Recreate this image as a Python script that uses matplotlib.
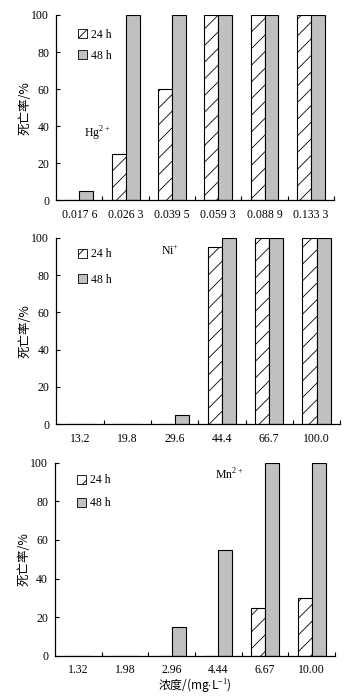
import matplotlib
matplotlib.use("Agg")
import matplotlib.pyplot as plt
import numpy as np
from matplotlib.patches import Patch

plt.rcParams['font.family'] = ['Liberation Serif', 'Noto Sans CJK SC', 'DejaVu Sans']
plt.rcParams['hatch.linewidth'] = 0.6
plt.rcParams['mathtext.fontset'] = 'custom'
plt.rcParams['mathtext.rm'] = 'Liberation Serif'

# ---- data ----
hg_labels = ["0.017 6", "0.026 3", "0.039 5", "0.059 3", "0.088 9", "0.133 3"]
hg_24h = [0, 25, 60, 100, 100, 100]
hg_48h = [5, 100, 100, 100, 100, 100]

ni_labels = ["13.2", "19.8", "29.6", "44.4", "66.7", "100.0"]
ni_24h = [0, 0, 0, 95, 100, 100]
ni_48h = [0, 0, 5, 100, 100, 100]

mn_labels = ["1.32", "1.98", "2.96", "4.44", "6.67", "10.00"]
mn_24h = [0, 0, 0, 0, 25, 30]
mn_48h = [0, 0, 15, 55, 100, 100]

series_names = ["24 h", "48 h"]
ion_names = ["Hg$^{2+}$", "Ni$^{+}$", "Mn$^{2+}$"]
ylabel = "死亡率/%"
xlabel = "浓度/(mg$\\cdot$L$^{-1}$)"

GRAY = "#c0c0c0"
FS = 8.5

fig = plt.figure(figsize=(3.6, 7.0), dpi=100)

panels = [
    (hg_labels, hg_24h, hg_48h, ion_names[0], [0.156, 0.714, 0.772, 0.2646], (0.10, 0.34), (0.06, 0.95), 0.75),
    (ni_labels, ni_24h, ni_48h, ion_names[1], [0.156, 0.394, 0.789, 0.266], (0.37, 0.91), (0.06, 0.97), 1.15),
    (mn_labels, mn_24h, mn_48h, ion_names[2], [0.153, 0.063, 0.778, 0.276], (0.57, 0.915), (0.06, 0.965), 0.95),
]

for i, (labels, s24, s48, ion, rect, ionpos, legpos, lsp) in enumerate(panels):
    ax = fig.add_axes(rect)
    x = np.arange(len(labels))
    w = 0.30
    ax.bar(x - w / 2, s24, w, facecolor="white", edgecolor="black", linewidth=0.8, hatch="//")
    ax.bar(x + w / 2, s48, w, facecolor=GRAY, edgecolor="black", linewidth=0.8)
    ax.set_xlim(-0.5, len(labels) - 0.5)
    ax.set_ylim(0, 100)
    ax.set_yticks([0, 20, 40, 60, 80, 100])
    ax.set_xticks(x)
    ax.set_xticklabels(labels, fontsize=FS)
    ax.set_xticks(np.arange(0.5, len(labels)), minor=True)
    ax.tick_params(axis='x', which='major', length=0, pad=6)
    ax.tick_params(axis='x', which='minor', direction='in', length=3, width=0.8)
    ax.tick_params(axis='y', direction='in', length=3, width=0.8, labelsize=FS, pad=5)
    for s in ['top', 'right']:
        ax.spines[s].set_visible(False)
    for s in ['left', 'bottom']:
        ax.spines[s].set_linewidth(0.9)
    ax.set_ylabel(ylabel, fontsize=9, family=['Noto Sans CJK SC', 'DejaVu Sans'], labelpad=0)
    ax.text(ionpos[0], ionpos[1], ion, transform=ax.transAxes, fontsize=FS)
    handles = [Patch(facecolor="white", edgecolor="black", hatch="//", linewidth=0.6),
               Patch(facecolor=GRAY, edgecolor="black", linewidth=0.6)]
    ax.legend(handles, series_names, loc="upper left", bbox_to_anchor=legpos,
              frameon=False, fontsize=FS, handlelength=0.8, handleheight=0.8,
              handletextpad=0.3, labelspacing=lsp, borderaxespad=0)
    if i == 2:
        ax.set_xlabel(xlabel, fontsize=8.5, family=['Noto Sans CJK SC', 'DejaVu Sans'], labelpad=0)

fig.savefig("out.png", dpi=100, facecolor="white")
